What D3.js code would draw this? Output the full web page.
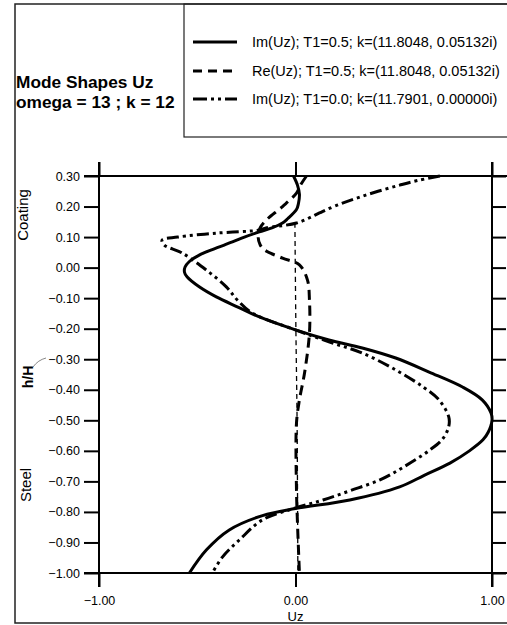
<!DOCTYPE html>
<html>
<head>
<meta charset="utf-8">
<script src="https://cdn.jsdelivr.net/npm/d3@7"></script>
<style>
  body { margin: 0; background: #fff; }
  svg text { font-family: Arial, "Liberation Sans", sans-serif; fill: #000; }
</style>
</head>
<body>
<div id="chart"></div>
<script>
// h/H levels and Uz values
const imT05H = [0.30, 0.27, 0.24, 0.21, 0.19, 0.16, 0.146, 0.13, 0.117, 0.10, 0.084, 0.06, 0.041, 0.02, 0.002, -0.015, -0.031, -0.063, -0.096, -0.13, -0.16, -0.204, -0.237, -0.263, -0.296, -0.342, -0.391, -0.433, -0.476, -0.50, -0.54, -0.564, -0.60, -0.64, -0.68, -0.718, -0.761, -0.789, -0.812, -0.859, -0.925, -1.00];
const imT05U = [-0.01, 0.01, 0.02, 0.015, 0.005, -0.04, -0.066, -0.12, -0.184, -0.26, -0.321, -0.42, -0.49, -0.54, -0.562, -0.565, -0.551, -0.49, -0.403, -0.29, -0.19, 0.0, 0.17, 0.34, 0.51, 0.68, 0.85, 0.95, 0.995, 1.0, 0.98, 0.954, 0.885, 0.786, 0.655, 0.53, 0.276, 0.0, -0.168, -0.337, -0.454, -0.54];

const reT05H = [0.30, 0.27, 0.244, 0.20, 0.156, 0.13, 0.10, 0.075, 0.058, 0.031, 0.009, -0.041, -0.106, -0.214, -0.345, -0.433, -0.509, -0.728, -0.836, -1.00];
const reT05U = [0.056, 0.025, 0.005, -0.066, -0.148, -0.18, -0.19, -0.18, -0.158, -0.066, 0.02, 0.061, 0.071, 0.071, 0.046, 0.02, 0.005, 0.005, 0.01, 0.02];

const imT00H = [0.30, 0.285, 0.27, 0.25, 0.231, 0.21, 0.19, 0.179, 0.146, 0.13, 0.123, 0.113, 0.10, 0.09, 0.074, 0.048, -0.008, -0.063, -0.106, -0.149, -0.204, -0.243, -0.28, -0.335, -0.391, -0.433, -0.489, -0.52, -0.56, -0.597, -0.653, -0.695, -0.73, -0.761, -0.787, -0.826, -0.892, -0.948, -1.00];
const imT00U = [0.735, 0.62, 0.53, 0.42, 0.327, 0.235, 0.158, 0.122, 0.005, -0.15, -0.184, -0.403, -0.6, -0.679, -0.668, -0.577, -0.454, -0.352, -0.296, -0.219, 0.0, 0.17, 0.34, 0.51, 0.65, 0.73, 0.78, 0.78, 0.75, 0.684, 0.55, 0.43, 0.28, 0.14, 0.0, -0.168, -0.286, -0.372, -0.423];

const reT00H = [0.146, -0.2, -0.5, -1.00];
const reT00U = [-0.003, 0.002, 0.008, 0.012];

const yTicks = [0.3, 0.2, 0.1, 0.0, -0.1, -0.2, -0.3, -0.4, -0.5, -0.6, -0.7, -0.8, -0.9, -1.0];
const xTicks = [-1, 0, 1];

const legendLabels = [
  "Im(Uz); T1=0.5; k=(11.8048, 0.05132i)",
  "Re(Uz); T1=0.5; k=(11.8048, 0.05132i)",
  "Im(Uz); T1=0.0; k=(11.7901, 0.00000i)"
];

const width = 507, height = 625;
const dashDot = "12,4,3,4,3,4";

const svg = d3.select("#chart").append("svg")
  .attr("width", width)
  .attr("height", height);

const x = d3.scaleLinear().domain([-1, 1]).range([99, 492]);
const y = d3.scaleLinear().domain([-1, 0.3]).range([573, 176]);

// outer frame and legend box
svg.append("rect")
  .attr("x", 15).attr("y", 4).attr("width", 520).attr("height", 619)
  .attr("fill", "none").attr("stroke", "#222").attr("stroke-width", 1.5);
svg.append("rect")
  .attr("x", 184).attr("y", 4).attr("width", 340).attr("height", 133)
  .attr("fill", "none").attr("stroke", "#222").attr("stroke-width", 1.2);

// title
svg.append("text").attr("x", 16).attr("y", 88)
  .attr("font-size", 17.3).attr("font-weight", "bold").text("Mode Shapes Uz");
svg.append("text").attr("x", 16).attr("y", 108)
  .attr("font-size", 17.3).attr("font-weight", "bold").text("omega = 13 ; k = 12");

// axes
const axisLeft = d3.axisLeft(y).tickValues(yTicks).tickSize(15).tickPadding(4)
  .tickFormat(d3.format(".2f"));
const axisRight = d3.axisRight(y).tickValues(yTicks).tickSize(14).tickFormat("");
const axisTop = d3.axisTop(x).tickValues(xTicks).tickSize(14).tickFormat("");
const axisBottom = d3.axisBottom(x).tickValues(xTicks).tickSize(14).tickPadding(9)
  .tickFormat(d3.format(".2f"));

function styleAxis(g) {
  g.select(".domain").remove();
  g.selectAll("line").attr("stroke", "#000").attr("stroke-width", 2);
  g.selectAll("text").attr("font-size", 12.5).attr("fill", "#000");
}

svg.append("g").attr("transform", "translate(99,0)").call(axisLeft).call(styleAxis);
svg.append("g").attr("transform", "translate(492,0)").call(axisRight).call(styleAxis);
svg.append("g").attr("transform", "translate(0,176)").call(axisTop).call(styleAxis);
svg.append("g").attr("transform", "translate(0,573)").call(axisBottom).call(styleAxis);

// frame lines of the plot (extend past the corners like the original)
svg.append("line").attr("x1", 84).attr("x2", 507).attr("y1", y(0.3)).attr("y2", y(0.3))
  .attr("stroke", "#000").attr("stroke-width", 2);
svg.append("line").attr("x1", 84).attr("x2", 507).attr("y1", y(-1)).attr("y2", y(-1))
  .attr("stroke", "#000").attr("stroke-width", 2);
svg.append("line").attr("x1", x(-1)).attr("x2", x(-1)).attr("y1", 162).attr("y2", 587)
  .attr("stroke", "#000").attr("stroke-width", 2);
svg.append("line").attr("x1", x(1)).attr("x2", x(1)).attr("y1", 162).attr("y2", 587)
  .attr("stroke", "#000").attr("stroke-width", 2);

// axis titles
svg.append("text").attr("x", x(0)).attr("y", 621).attr("text-anchor", "middle")
  .attr("font-size", 13).text("Uz");
svg.append("text").attr("transform", "translate(28,215) rotate(-90)")
  .attr("text-anchor", "middle").attr("font-size", 15).text("Coating");
svg.append("text").attr("transform", "translate(31,485) rotate(-90)")
  .attr("text-anchor", "middle").attr("font-size", 15).text("Steel");
svg.append("text").attr("transform", "translate(33,377) rotate(-90)")
  .attr("text-anchor", "middle").attr("font-size", 14).attr("font-weight", "bold").text("h/H");
svg.append("path").attr("d", "M33,367 Q38,360 46,358")
  .attr("fill", "none").attr("stroke", "#555").attr("stroke-width", 0.7);

// curves
const line = d3.line()
  .x(d => x(d[0]))
  .y(d => y(d[1]))
  .curve(d3.curveCatmullRom.alpha(0.5));

const series = [
  { u: reT00U, h: reT00H, w: 1.3, dash: "5,4" },
  { u: reT05U, h: reT05H, w: 3, dash: "10,6" },
  { u: imT00U, h: imT00H, w: 3, dash: dashDot },
  { u: imT05U, h: imT05H, w: 3, dash: null }
];

series.forEach(s => {
  svg.append("path")
    .datum(s.u.map((v, i) => [v, s.h[i]]))
    .attr("d", line)
    .attr("fill", "none")
    .attr("stroke", "#000")
    .attr("stroke-width", s.w)
    .attr("stroke-dasharray", s.dash);
});

// legend
const legendStyles = [
  { w: 3, dash: null },
  { w: 3, dash: "9,6" },
  { w: 3, dash: "14,4,3,4,3,4" }
];
const legendY = [42, 71, 99];

legendLabels.forEach((label, i) => {
  svg.append("line")
    .attr("x1", 193).attr("x2", 237).attr("y1", legendY[i]).attr("y2", legendY[i])
    .attr("stroke", "#000").attr("stroke-width", legendStyles[i].w)
    .attr("stroke-dasharray", legendStyles[i].dash);
  svg.append("text").attr("x", 252).attr("y", legendY[i] + 5)
    .attr("font-size", 14.5).text(label);
});
</script>
</body>
</html>
